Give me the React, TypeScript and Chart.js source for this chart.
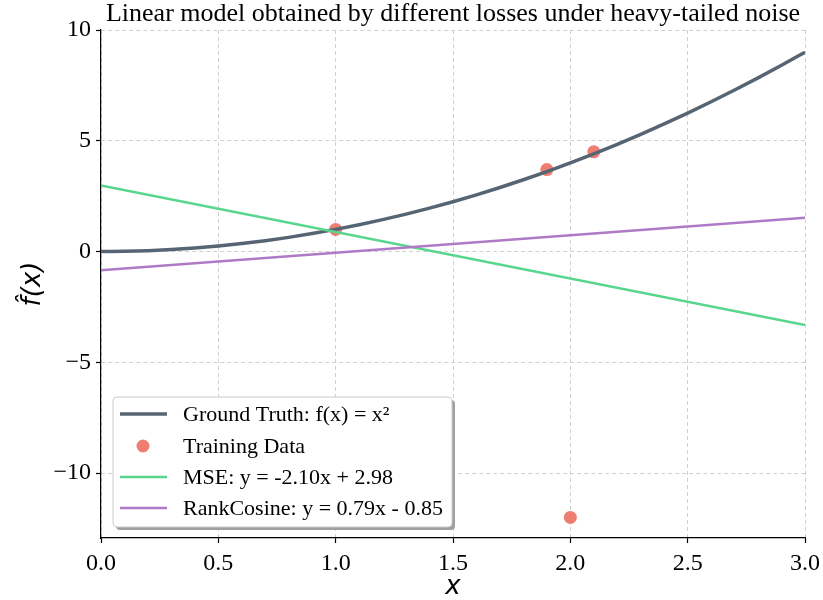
import React, { useEffect, useRef } from 'react';
import { Chart, registerables } from 'chart.js';

Chart.register(...registerables);

const TITLE = 'Linear model obtained by different losses under heavy-tailed noise';
const X_LABEL = 'x';
const Y_LABEL = 'f\u0302(x)';

const X_TICKS = [0, 0.5, 1, 1.5, 2, 2.5, 3];
const Y_TICKS = [-10, -5, 0, 5, 10];

const GT_X = [0, 0.1, 0.2, 0.3, 0.4, 0.5, 0.6, 0.7, 0.8, 0.9, 1.0, 1.1, 1.2, 1.3, 1.4, 1.5, 1.6, 1.7, 1.8, 1.9, 2.0, 2.1, 2.2, 2.3, 2.4, 2.5, 2.6, 2.7, 2.8, 2.9, 3.0];
const GT_Y = [0, 0.01, 0.04, 0.09, 0.16, 0.25, 0.36, 0.49, 0.64, 0.81, 1.0, 1.21, 1.44, 1.69, 1.96, 2.25, 2.56, 2.89, 3.24, 3.61, 4.0, 4.41, 4.84, 5.29, 5.76, 6.25, 6.76, 7.29, 7.84, 8.41, 9.0];

const TRAIN_X = [1.0, 1.9, 2.0, 2.1];
const TRAIN_Y = [1.0, 3.7, -12.0, 4.5];

const LINE_X = [0, 3];
const MSE_Y = [2.98, -3.32];
const RANK_Y = [-0.85, 1.52];

const LEGEND_LABELS = [
  'Ground Truth: f(x) = x\u00B2',
  'Training Data',
  'MSE: y = -2.10x + 2.98',
  'RankCosine: y = 0.79x - 0.85',
];

const GT_COLOR = '#566573';
const TRAIN_COLOR = 'rgba(236,112,99,0.9)';
const MSE_COLOR = '#58d68d';
const RANK_COLOR = '#af7ac5';

const SERIF = '"Liberation Serif", "Times New Roman", serif';
const SANS = '"DejaVu Sans", sans-serif';

const toPoints = (xs: number[], ys: number[]) => xs.map((x, i) => ({ x, y: ys[i] }));

const decorPlugin = {
  id: 'decor',
  afterDraw(chart: any) {
    const { ctx, chartArea } = chart;
    const cx = (chartArea.left + chartArea.right) / 2;
    const cy = (chartArea.top + chartArea.bottom) / 2;
    ctx.save();
    // title
    ctx.fillStyle = '#000';
    ctx.font = `26px ${SERIF}`;
    ctx.textAlign = 'center';
    ctx.textBaseline = 'alphabetic';
    ctx.fillText(TITLE, cx, 21);
    // x label
    ctx.font = `italic 26px ${SANS}`;
    ctx.textBaseline = 'middle';
    ctx.fillText(X_LABEL, cx, 587);
    // y label
    ctx.save();
    ctx.translate(33, cy);
    ctx.rotate(-Math.PI / 2);
    ctx.fillText(Y_LABEL, 0, 0);
    ctx.restore();

    // legend
    const bx = 113, by = 397, bw = 339, bh = 130, r = 4;
    const rr = (x: number, y: number, w: number, h: number) => {
      ctx.beginPath();
      ctx.moveTo(x + r, y);
      ctx.lineTo(x + w - r, y);
      ctx.quadraticCurveTo(x + w, y, x + w, y + r);
      ctx.lineTo(x + w, y + h - r);
      ctx.quadraticCurveTo(x + w, y + h, x + w - r, y + h);
      ctx.lineTo(x + r, y + h);
      ctx.quadraticCurveTo(x, y + h, x, y + h - r);
      ctx.lineTo(x, y + r);
      ctx.quadraticCurveTo(x, y, x + r, y);
      ctx.closePath();
    };
    rr(bx + 3, by + 3, bw, bh);
    ctx.fillStyle = '#a0a0a0';
    ctx.fill();
    rr(bx, by, bw, bh);
    ctx.fillStyle = '#ffffff';
    ctx.fill();
    ctx.strokeStyle = '#cccccc';
    ctx.lineWidth = 1;
    ctx.stroke();

    const rowsY = [414, 446, 477, 508];
    const handles = [
      { type: 'line', color: GT_COLOR, w: 3.5 },
      { type: 'point', color: TRAIN_COLOR, w: 0 },
      { type: 'line', color: MSE_COLOR, w: 2.5 },
      { type: 'line', color: RANK_COLOR, w: 2.5 },
    ];
    handles.forEach((h, i) => {
      const y = rowsY[i];
      if (h.type === 'line') {
        ctx.beginPath();
        ctx.moveTo(120, y);
        ctx.lineTo(167, y);
        ctx.strokeStyle = h.color;
        ctx.lineWidth = h.w;
        ctx.stroke();
      } else {
        ctx.beginPath();
        ctx.arc(143, y, 6.5, 0, Math.PI * 2);
        ctx.fillStyle = h.color;
        ctx.fill();
      }
      ctx.fillStyle = '#000';
      ctx.font = `22px ${SERIF}`;
      ctx.textAlign = 'left';
      ctx.textBaseline = 'middle';
      ctx.fillText(LEGEND_LABELS[i], 183, y + 1);
    });
    ctx.restore();
  },
};

export default function App() {
  const ref = useRef<HTMLCanvasElement | null>(null);
  useEffect(() => {
    if (!ref.current) return;
    const chart = new Chart(ref.current, {
      type: 'scatter',
      data: {
        datasets: [
          {
            label: LEGEND_LABELS[1],
            data: toPoints(TRAIN_X, TRAIN_Y),
            backgroundColor: TRAIN_COLOR,
            borderColor: TRAIN_COLOR,
            pointRadius: 6.5,
            pointBorderWidth: 0,
            showLine: false,
            order: 3,
          },
          {
            label: LEGEND_LABELS[0],
            data: toPoints(GT_X, GT_Y),
            borderColor: GT_COLOR,
            backgroundColor: GT_COLOR,
            borderWidth: 3.5,
            pointRadius: 0,
            showLine: true,
            cubicInterpolationMode: 'monotone',
            order: 2,
          },
          {
            label: LEGEND_LABELS[2],
            data: toPoints(LINE_X, MSE_Y),
            borderColor: MSE_COLOR,
            backgroundColor: MSE_COLOR,
            borderWidth: 2.5,
            pointRadius: 0,
            showLine: true,
            order: 1,
          },
          {
            label: LEGEND_LABELS[3],
            data: toPoints(LINE_X, RANK_Y),
            borderColor: RANK_COLOR,
            backgroundColor: RANK_COLOR,
            borderWidth: 2.5,
            pointRadius: 0,
            showLine: true,
            order: 0,
          },
        ],
      } as any,
      options: {
        animation: false,
        responsive: false,
        devicePixelRatio: 1,
        layout: { padding: { left: 0, right: 18, top: 30, bottom: 0 } },
        plugins: {
          legend: { display: false },
          title: { display: false },
          tooltip: { enabled: false },
        },
        scales: {
          x: {
            type: 'linear',
            min: 0,
            max: 3,
            afterBuildTicks: (s: any) => {
              s.ticks = X_TICKS.map((v) => ({ value: v }));
            },
            afterFit: (s: any) => {
              s.height = 62;
              s.paddingLeft = 0;
              s.paddingRight = 0;
            },
            ticks: {
              color: '#000',
              font: { family: SERIF, size: 24 },
              padding: 6,
              maxRotation: 0,
              autoSkip: false,
              callback: (v: any) => Number(v).toFixed(1),
            },
            grid: {
              color: '#d0d0d0',
              lineWidth: 1,
              tickColor: '#000',
              tickLength: 5,
              tickWidth: 1.2,
              tickBorderDash: [],
            },
            border: { display: true, color: '#000', width: 1.2, dash: [4, 3] },
          },
          y: {
            type: 'linear',
            min: -12.93,
            max: 10,
            afterBuildTicks: (s: any) => {
              s.ticks = Y_TICKS.map((v) => ({ value: v }));
            },
            afterFit: (s: any) => {
              s.width = 101;
              s.paddingTop = 0;
              s.paddingBottom = 0;
            },
            ticks: {
              color: '#000',
              font: { family: SERIF, size: 24 },
              padding: 5,
              autoSkip: false,
              callback: (v: any) => (Number(v) < 0 ? '\u2212' + Math.abs(Number(v)) : String(v)),
            },
            grid: {
              color: '#d0d0d0',
              lineWidth: 1,
              tickColor: '#000',
              tickLength: 5,
              tickWidth: 1.2,
              tickBorderDash: [],
            },
            border: { display: true, color: '#000', width: 1.2, dash: [4, 3] },
          },
        },
      } as any,
      plugins: [decorPlugin],
    });
    return () => chart.destroy();
  }, []);

  return (
    <div style={{ position: 'fixed', left: 0, top: 0, width: 823, height: 600, background: '#fff' }}>
      <canvas ref={ref} width={823} height={600} style={{ display: 'block' }} />
    </div>
  );
}
